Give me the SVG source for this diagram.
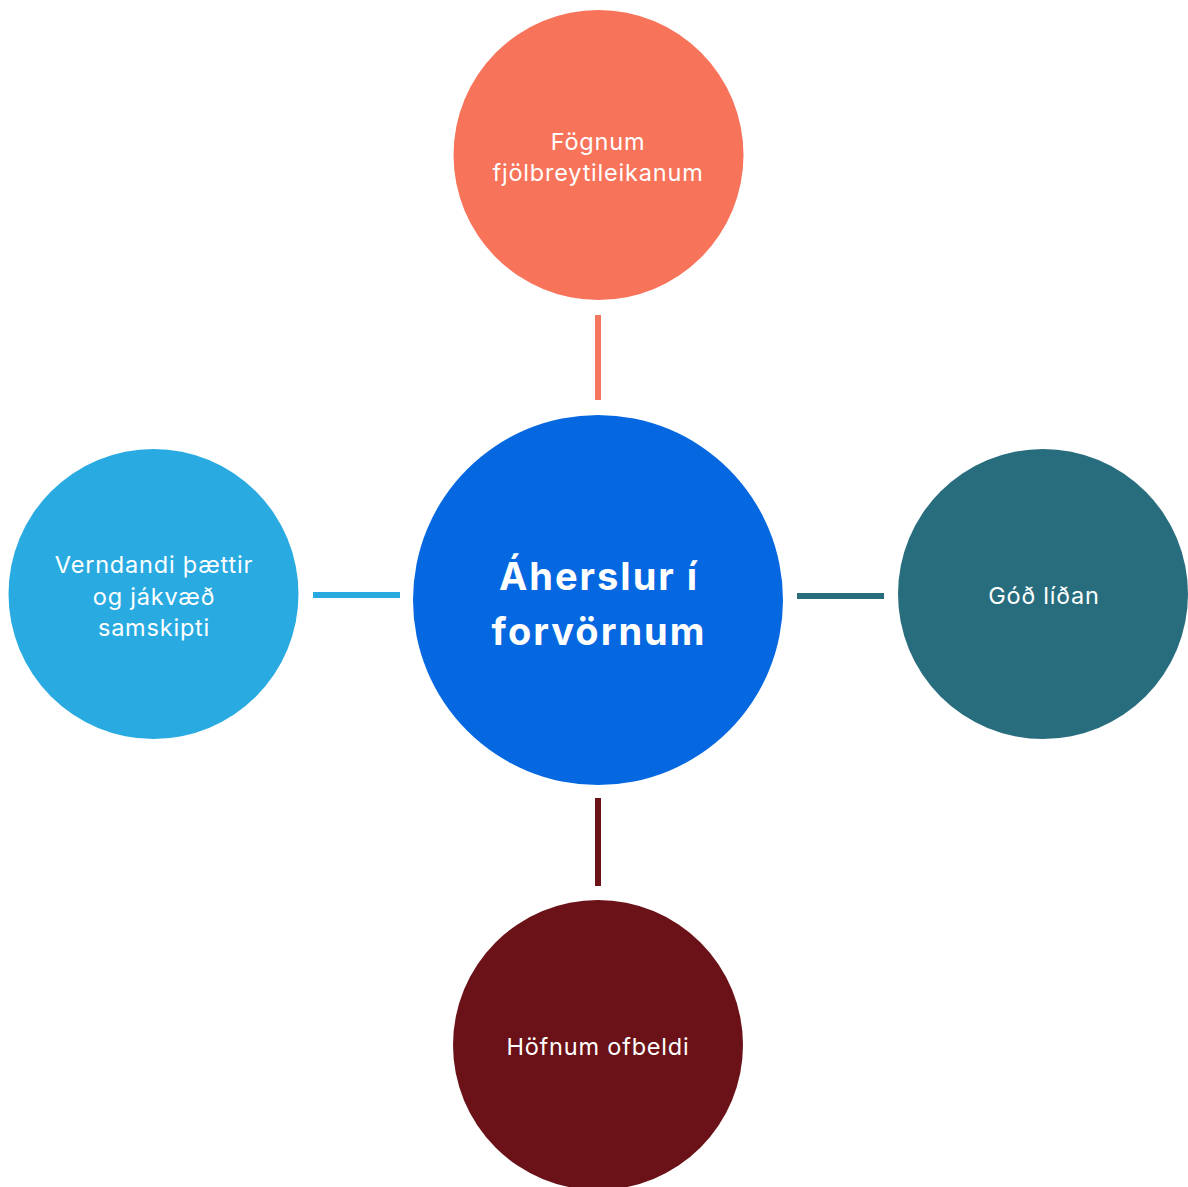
<svg xmlns="http://www.w3.org/2000/svg" width="1188" height="1187" viewBox="0 0 1188 1187">
<style>
.lbl{font-family:Inter,"Liberation Sans",sans-serif;font-size:23.5px;fill:#ffffff;text-anchor:middle;letter-spacing:0.8px}
.main{font-family:Inter,"Liberation Sans",sans-serif;font-size:38px;font-weight:700;fill:#ffffff;text-anchor:middle;letter-spacing:2px}
.conn{stroke-width:6;fill:none}
</style>
<rect width="1188" height="1187" fill="#ffffff"/>
<g id="connectors">
<line class="conn" x1="598" y1="315" x2="598" y2="400" stroke="#F4775D"/>
<line class="conn" x1="313" y1="595" x2="400" y2="595" stroke="#2AA9E0"/>
<line class="conn" x1="797" y1="596" x2="884" y2="596" stroke="#2A6D7C"/>
<line class="conn" x1="598" y1="798" x2="598" y2="886" stroke="#6B1218"/>
</g>
<g id="node-top">
<circle cx="598.5" cy="155" r="145" fill="#F7735A"/>
<text class="lbl" x="598" y="150">Fögnum</text>
<text class="lbl" x="598" y="181">fjölbreytileikanum</text>
</g>
<g id="node-center">
<circle cx="598" cy="600" r="185" fill="#0568E0"/>
<text class="main" x="599" y="590">Áherslur í</text>
<text class="main" x="599" y="645">forvörnum</text>
</g>
<g id="node-left">
<circle cx="153.5" cy="594" r="145" fill="#29ABE2"/>
<text class="lbl" x="154" y="573">Verndandi þættir</text>
<text class="lbl" x="154" y="605">og jákvæð</text>
<text class="lbl" x="154" y="636">samskipti</text>
</g>
<g id="node-right">
<circle cx="1043" cy="594" r="145" fill="#286D7E"/>
<text class="lbl" x="1044" y="604">Góð líðan</text>
</g>
<g id="node-bottom">
<circle cx="598" cy="1045" r="145" fill="#6B1218"/>
<text class="lbl" x="598" y="1055">Höfnum ofbeldi</text>
</g>
</svg>
